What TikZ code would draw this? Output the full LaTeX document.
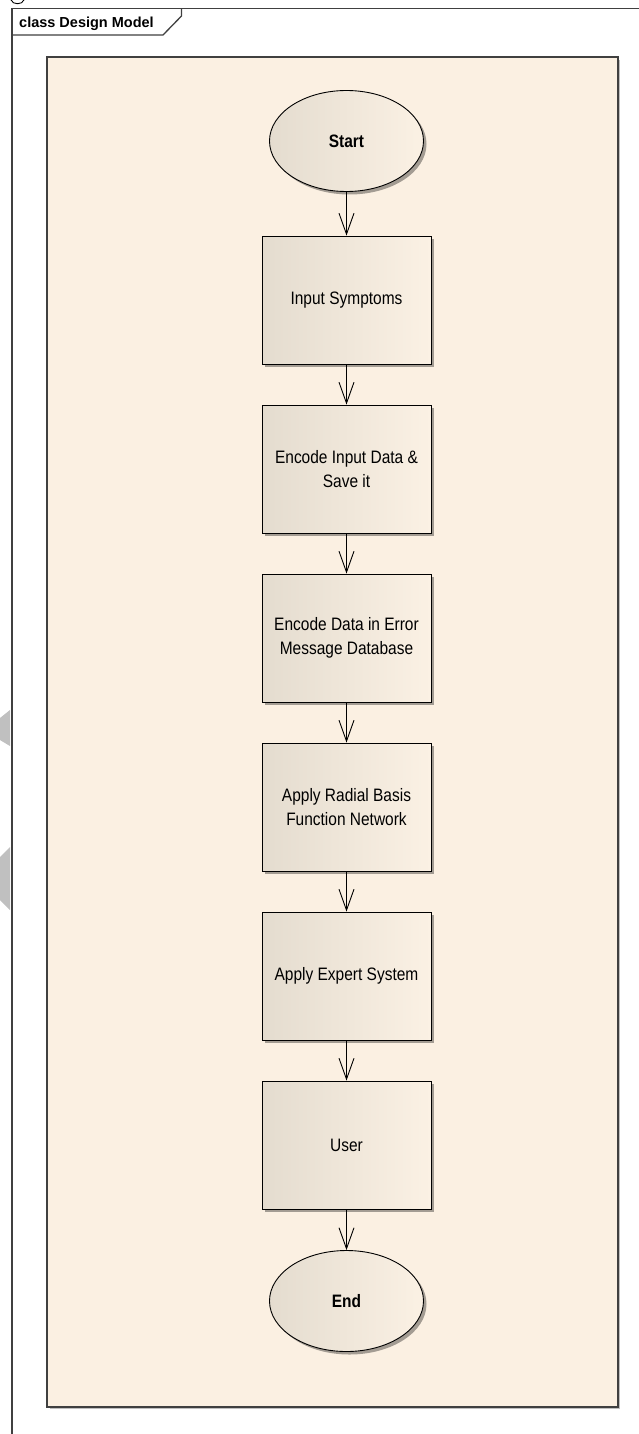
\documentclass[tikz,border=0pt]{standalone}
\usepackage{fontspec}
\setmainfont{Liberation Sans}
\newfontfamily\eafont[FakeStretch=0.86]{Liberation Sans}
\usetikzlibrary{arrows.meta,shapes.geometric,shadows}
\definecolor{bg}{HTML}{FBF0E2}
\definecolor{framec}{HTML}{404040}
\definecolor{nodeL}{HTML}{E4DCCF}
\definecolor{nodeR}{HTML}{FBF1E4}
\definecolor{wm}{HTML}{C0C0C0}
\begin{document}
\begin{tikzpicture}[x=1pt,y=-1pt,
  shade/.style={drop shadow={shadow xshift=3pt,shadow yshift=-3pt,fill=black,opacity=0.35}},
  stepbox/.style={rectangle,draw=black,line width=0.9pt,minimum width=169pt,minimum height=128pt,
    inner sep=2pt,left color=nodeL,right color=nodeR,align=center,
    font=\eafont\fontsize{18}{23.5}\selectfont,shade},
  term/.style={ellipse,draw=black,line width=0.9pt,minimum width=154pt,minimum height=101pt,
    inner sep=0pt,left color=nodeL,right color=nodeR,font=\eafont\fontsize{18}{20}\selectfont\bfseries,shade},
  flow/.style={draw=black,line width=0.9pt,-{Straight Barb[length=21pt,width=15pt,line width=0.9pt]}}
]
\useasboundingbox (0,0) rectangle (639,1434);
\fill[white] (0,0) rectangle (639,1434);
% watermark fragments
\fill[wm] (10,710) -- (0,718) -- (0,740) -- (10,746) -- cycle;
\fill[wm] (10,847) -- (0,857) -- (0,900) -- (10,910) -- cycle;
\draw[black,line width=0.9pt] (11,0) .. controls (13,5) and (22,5) .. (24,0);
% outer frame
\draw[framec,line width=1.3pt] (12,1436) -- (12,8.5) -- (641,8.5);
\draw[framec,line width=1.3pt] (181.5,8.5) -- (181.5,16) -- (163,35) -- (12,35);
\node[anchor=base west,inner sep=0pt,font=\fontsize{14.5}{17}\selectfont\bfseries] (title) at (19,27.5) {class Design Model};
% panel
\fill[black!25] (50,60) rectangle (620,1409);
\draw[framec,line width=1.3pt,fill=bg] (47,57) rectangle (618,1407);
% nodes
\node[term] (start) at (346.5,141) {Start};
\node[stepbox] (s1) at (346.5,300) {Input Symptoms};
\node[stepbox] (s2) at (346.5,469) {Encode Input Data \&\\Save it};
\node[stepbox] (s3) at (346.5,638) {Encode Data in Error\\Message Database};
\node[stepbox] (s4) at (346.5,807) {Apply Radial Basis\\Function Network};
\node[stepbox] (s5) at (346.5,976) {Apply Expert System};
\node[stepbox] (s6) at (346.5,1145) {User};
\node[term] (end) at (346.5,1301) {End};
% connectors
\draw[flow] (start) -- (s1);
\draw[flow] (s1) -- (s2);
\draw[flow] (s2) -- (s3);
\draw[flow] (s3) -- (s4);
\draw[flow] (s4) -- (s5);
\draw[flow] (s5) -- (s6);
\draw[flow] (s6) -- (end);
\end{tikzpicture}
\end{document}
